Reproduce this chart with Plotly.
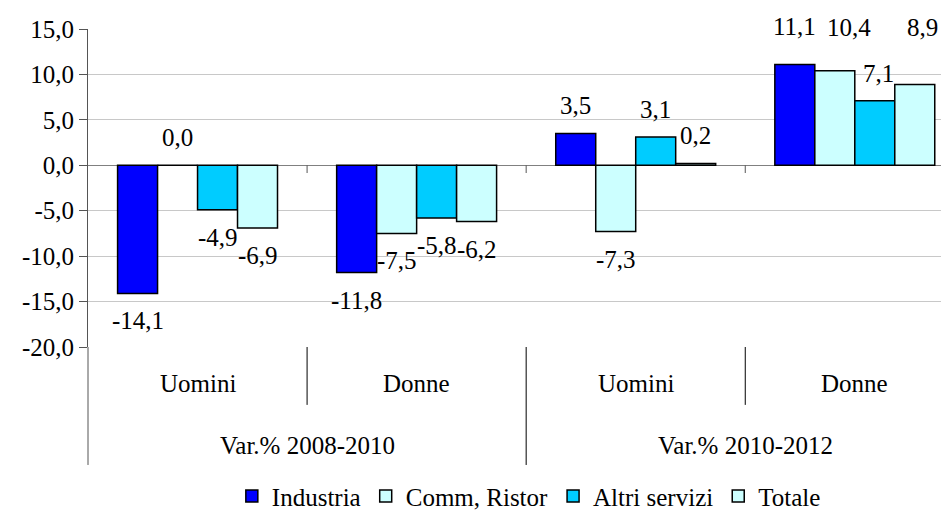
import plotly.graph_objects as go

# Data
periods = ["Var.% 2008-2010", "Var.% 2010-2012"]
genders = ["Uomini", "Donne"]
series_names = ["Industria", "Comm, Ristor", "Altri servizi", "Totale"]
industria = [-14.1, -11.8, 3.5, 11.1]
comm_ristor = [0.0, -7.5, -7.3, 10.4]
altri_servizi = [-4.9, -5.8, 3.1, 7.1]
totale = [-6.9, -6.2, 0.2, 8.9]
y_ticks = [15, 10, 5, 0, -5, -10, -15, -20]

series_values = [industria, comm_ristor, altri_servizi, totale]
colors = ["#0000FF", "#CCFFFF", "#00CCFF", "#CCFFFF"]

FONT = "Liberation Serif"
FS = 25
BARGAP = 0.27
# manual label nudges (dx, dy in pixels) as in the reference, keyed by (series index, category index)
LABEL_NUDGE = {(0, 3): (0, 10), (1, 3): (14, 16), (2, 3): (4, 0), (3, 3): (8, 29)}


def fmt(v):
    return f"{v:.1f}".replace(".", ",")


x_pos = list(range(len(periods) * len(genders)))
inner_labels = [g for p in periods for g in genders]

fig = go.Figure()
for name, vals, col in zip(series_names, series_values, colors):
    fig.add_trace(go.Bar(
        x=x_pos, y=vals, name=name,
        marker=dict(color=col, line=dict(color="#000000", width=1.5)),
    ))

shapes = []
axis_col = "#555555"
shapes.append(dict(type="line", xref="paper", yref="paper", x0=0, x1=0, y0=0, y1=-0.371,
                   line=dict(color=axis_col, width=1)))
for b in [0.5, 1.5, 2.5]:
    outer = abs(b - 1.5) < 1e-9
    shapes.append(dict(type="line", xref="x", yref="paper", x0=b, x1=b, y0=0,
                       y1=-0.371 if outer else -0.182, line=dict(color="#000000", width=1)))
    shapes.append(dict(type="line", xref="x", yref="y", x0=b, x1=b, y0=0, y1=-0.85,
                       line=dict(color=axis_col, width=1)))

annotations = []
n_series = len(series_values)
bw = (1 - BARGAP) / n_series
for k, vals in enumerate(series_values):
    for i, v in enumerate(vals):
        pos = v >= 0
        dx, dy = LABEL_NUDGE.get((k, i), (0, 0))
        annotations.append(dict(
            x=i + (k - (n_series - 1) / 2) * bw, y=v, xref="x", yref="y",
            text=fmt(v), showarrow=False,
            yanchor="bottom" if pos else "top", yshift=(12 if pos else -12) + dy, xshift=dx,
            font=dict(family=FONT, size=FS, color="#000000")))

for i, lab in enumerate(inner_labels):
    annotations.append(dict(x=i, y=0, xref="x", yref="paper", text=lab, showarrow=False,
                            yanchor="middle", yshift=-36, font=dict(family=FONT, size=FS, color="#000000")))
for j, p in enumerate(periods):
    annotations.append(dict(x=j * 2 + 0.5, y=0, xref="x", yref="paper", text=p, showarrow=False,
                            yanchor="middle", yshift=-98, font=dict(family=FONT, size=FS, color="#000000")))

fig.update_layout(
    width=941, height=503,
    margin=dict(l=80, r=0, t=21, b=164, autoexpand=False),
    paper_bgcolor="white", plot_bgcolor="white",
    barmode="group", bargap=BARGAP, bargroupgap=0,
    font=dict(family=FONT, size=FS, color="#000000"),
    xaxis=dict(range=[-0.5, 3.43], showticklabels=False, ticks="", showgrid=False,
               zeroline=False, showline=False),
    yaxis=dict(range=[-20, 15], tickvals=y_ticks, ticktext=[fmt(v) for v in y_ticks],
               showgrid=True, gridcolor="#C8C8C8", gridwidth=1,
               zeroline=True, zerolinecolor="#808080", zerolinewidth=1,
               showline=True, linecolor=axis_col, linewidth=1,
               ticks="outside", ticklen=8, tickcolor=axis_col,
               tickfont=dict(family=FONT, size=FS, color="#000000")),
    showlegend=True,
    legend=dict(orientation="h", x=0.512, xanchor="center", y=-0.469, yanchor="middle",
                font=dict(family=FONT, size=FS, color="#000000"), itemwidth=30,
                traceorder="normal"),
    shapes=shapes, annotations=annotations,
)

fig.write_html("out.html")
